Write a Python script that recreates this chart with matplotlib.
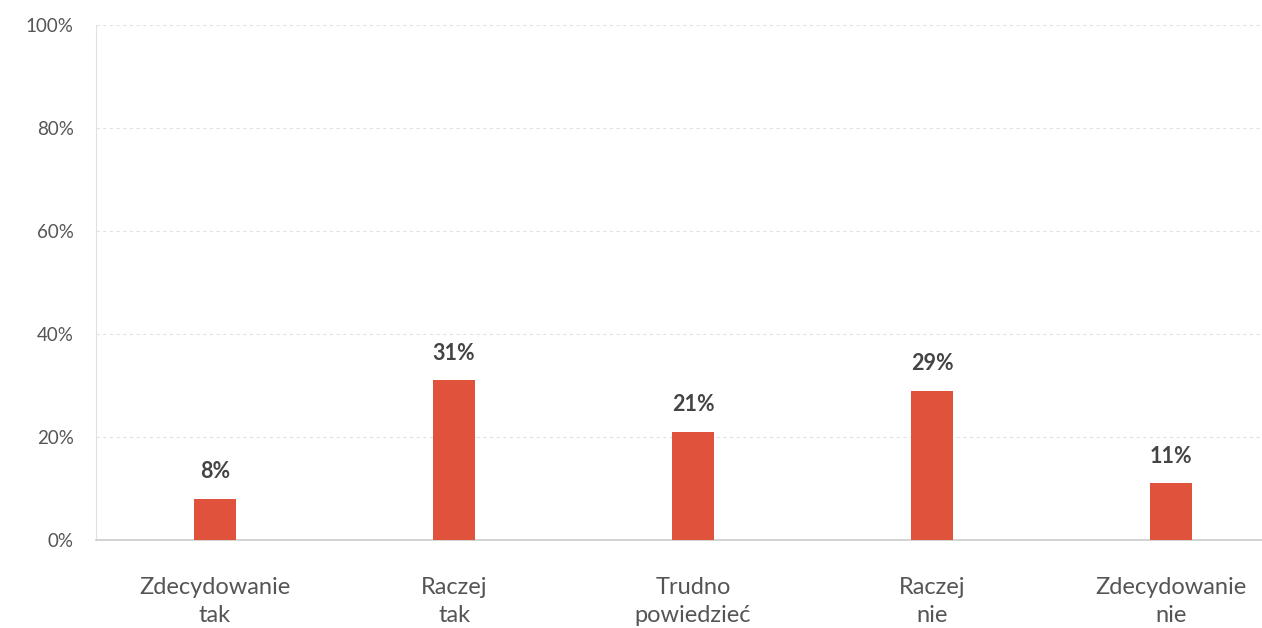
import matplotlib.pyplot as plt
from matplotlib.ticker import FuncFormatter

categories = ["Zdecydowanie\ntak", "Raczej\ntak", "Trudno\npowiedzieć", "Raczej\nnie", "Zdecydowanie\nnie"]
values = [8, 31, 21, 29, 11]
yticks = [0, 20, 40, 60, 80, 100]

bar_color = "#E0523C"

plt.rcParams["font.family"] = ["Lato", "DejaVu Sans"]

fig = plt.figure(figsize=(12.62, 6.28), dpi=100)
ax = fig.add_axes([96 / 1262, 88 / 628, 1166 / 1262, 515 / 628])

x = list(range(len(categories)))
bars = ax.bar(x, values, width=0.176, color=bar_color, zorder=3)

# value labels over the bars
for xi, v in zip(x, values):
    ax.annotate(f"{v}%", (xi, v), xytext=(0, 12), textcoords="offset points",
                ha="center", va="bottom", fontsize=15.5, fontweight="bold", color="#444444")

ax.set_ylim(0, 100)
ax.set_xlim(-0.498, 4.38)
ax.set_yticks(yticks)
ax.yaxis.set_major_formatter(FuncFormatter(lambda v, p: f"{int(v)}%"))
ax.set_xticks(x)
ax.set_xticklabels(categories, fontsize=17, color="#555555", linespacing=1.4)

ax.grid(axis="y", linestyle=(0, (3, 3)), color="#e2e2e2", linewidth=0.8, zorder=0)
ax.tick_params(axis="y", length=0, pad=16, labelsize=13.5, labelcolor="#555555")
ax.tick_params(axis="x", length=0, pad=27)

for side in ["top", "right"]:
    ax.spines[side].set_visible(False)
ax.spines["left"].set_color("#e0e0e0")
ax.spines["bottom"].set_color("#cccccc")
ax.spines["bottom"].set_linewidth(1.2)

fig.savefig("out.png", dpi=100)
